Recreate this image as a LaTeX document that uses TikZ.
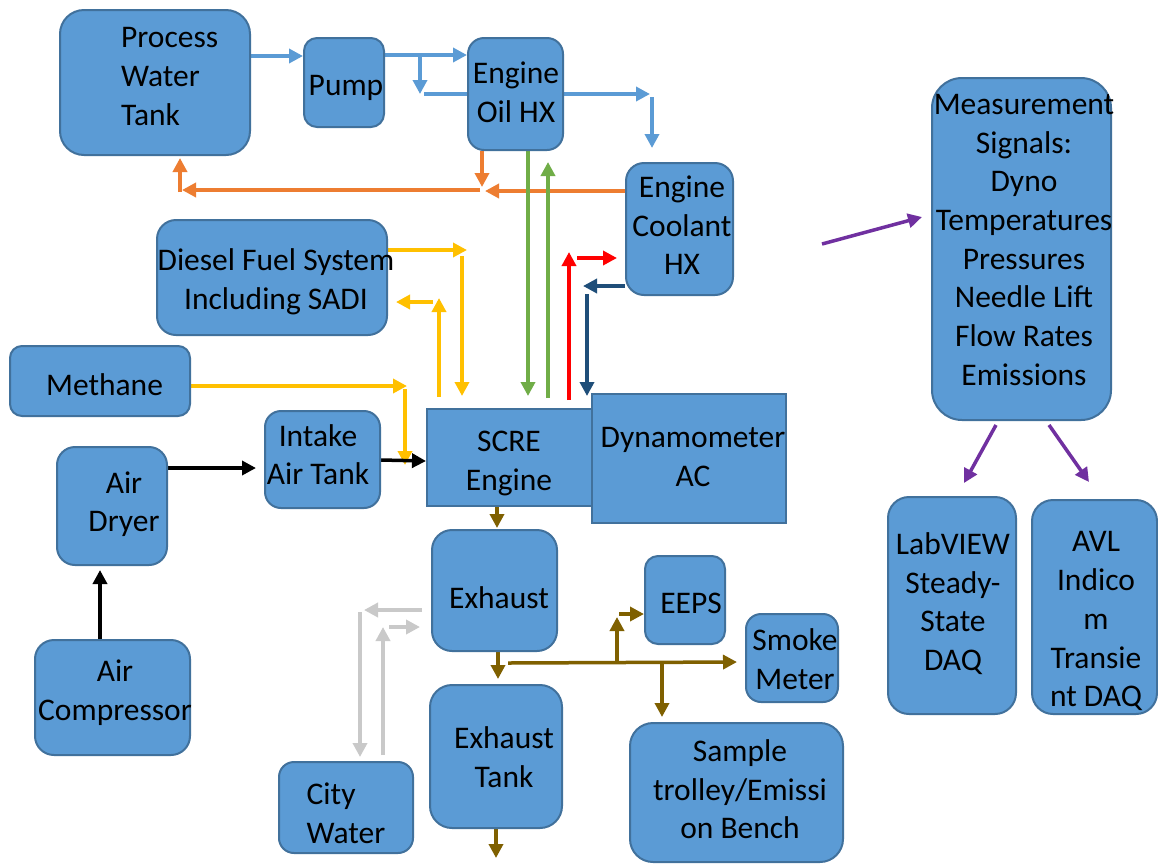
\documentclass[tikz,border=0pt]{standalone}
\usepackage{fontspec}
\setmainfont{Carlito}
\usetikzlibrary{arrows.meta}
\pgfdeclarelayer{background}
\pgfsetlayers{background,main}
\definecolor{boxfill}{HTML}{5B9BD5}
\definecolor{boxline}{HTML}{41719C}
\definecolor{bluel}{HTML}{5B9BD5}
\definecolor{orangel}{HTML}{ED7D31}
\definecolor{greenl}{HTML}{70AD47}
\definecolor{redl}{HTML}{FF0000}
\definecolor{navyl}{HTML}{1F4E79}
\definecolor{goldl}{HTML}{FFC000}
\definecolor{brownl}{HTML}{7F6000}
\definecolor{grayl}{HTML}{C9C9C9}
\definecolor{purplel}{HTML}{7030A0}
\begin{document}
\begin{tikzpicture}[x=1pt,y=-1pt,
  box/.style={draw=boxline, fill=boxfill, line width=2pt, rounded corners=#1, inner sep=0pt},
  sharpbox/.style={draw=boxline, fill=boxfill, line width=2pt, inner sep=0pt},
  txt/.style={font=\fontsize{31.5}{38.7}\selectfont, inner sep=0pt, align=center, yshift=-6pt,
    execute at begin node=\strut, execute at end node=\strut},
  conn/.style={line width=3.5pt, draw=#1, -{Triangle[length=14pt,width=14pt]}}
]
\begin{pgfonlayer}{background}
\path[fill=white, use as bounding box] (0,0) rectangle (1158,863);
\end{pgfonlayer}

% boxes
\node[box=24, minimum width=190, minimum height=145] (pwt) at (155,82.5) {};
\node[box=13, minimum width=80, minimum height=89] (pump) at (344,82.5) {};
\node[box=16, minimum width=95, minimum height=112] (oilhx) at (515.5,94) {};
\node[box=18, minimum width=107, minimum height=132] (coolant) at (679.5,229) {};
\node[box=30, minimum width=179, minimum height=342] (meas) at (1021.5,249) {};
\node[box=19, minimum width=230, minimum height=115] (diesel) at (272,277.5) {};
\node[box=12, minimum width=180, minimum height=70] (methane) at (100,381) {};
\node[box=16, minimum width=115, minimum height=97] (intake) at (322.5,459.5) {};
\node[sharpbox, minimum width=165, minimum height=97] (scre) at (509.5,457.5) {};
\node[sharpbox, minimum width=194, minimum height=129] (dyno) at (689,458.5) {};
\node[box=18, minimum width=110, minimum height=118] (dryer) at (112,506) {};
\node[box=19, minimum width=155, minimum height=115] (compressor) at (112.5,697.5) {};
\node[box=20, minimum width=125, minimum height=121] (exhaust) at (494.5,590.5) {};
\node[box=13, minimum width=80, minimum height=88] (eeps) at (685,600) {};
\node[box=15, minimum width=92, minimum height=88] (smoke) at (792,658) {};
\node[box=22, minimum width=132, minimum height=143] (extank) at (496,756.5) {};
\node[box=23, minimum width=213, minimum height=139] (sample) at (736.5,792.5) {};
\node[box=15, minimum width=134, minimum height=91] (city) at (346,807.5) {};
\node[box=21, minimum width=128, minimum height=217] (labview) at (952,605.5) {};
\node[box=21, minimum width=125, minimum height=214] (avl) at (1094.5,607) {};

% texts
\node[txt, align=left, anchor=west] (pwt-t) at (121,76) {Process\\Water\\Tank};
\node[txt] (pump-t) at (346,82) {Pump};
\node[txt] (oilhx-t) at (516,92) {Engine\\Oil HX};
\node[txt] (coolant-t) at (682,225) {Engine\\Coolant\\HX};
\node[txt] (meas-t) at (1024,239.5) {Measurement\\Signals:\\Dyno\\Temperatures\\Pressures\\Needle Lift\\Flow Rates\\Emissions};
\node[txt] (diesel-t) at (276,279) {Diesel Fuel System\\Including SADI};
\node[txt] (methane-t) at (104.5,382) {Methane};
\node[txt] (intake-t) at (318,454.5) {Intake\\Air Tank};
\node[txt] (scre-t) at (509,460.5) {SCRE\\Engine};
\node[txt] (dyno-t) at (693,457) {Dynamometer\\AC};
\node[txt] (dryer-t) at (124,501.5) {Air\\Dryer};
\node[txt] (compressor-t) at (115,690) {Air\\Compressor};
\node[txt] (exhaust-t) at (499,595) {Exhaust};
\node[txt] (eeps-t) at (691,600) {EEPS};
\node[txt] (smoke-t) at (795,659) {Smoke\\Meter};
\node[txt] (extank-t) at (504,757) {Exhaust\\Tank};
\node[txt] (sample-t) at (740,789) {Sample\\trolley/Emissi\\on Bench};
\node[txt, align=left] (city-t) at (346,813) {City\\Water};
\node[txt] (labview-t) at (953,601.5) {LabVIEW\\Steady-\\State\\DAQ};
\node[txt] (avl-t) at (1096,619) {AVL\\Indico\\m\\Transie\\nt DAQ};

% free points
\coordinate (bsplit) at (420,55);
\coordinate (osplit) at (482,190);

\begin{pgfonlayer}{background}
% blue water lines
\draw[conn=bluel] (pwt.east |- 0,56) -- (pump.west |- 0,56);
\draw[conn=bluel] (pump.east |- 0,55) -- (oilhx.west |- 0,55);
\draw[conn=bluel] (bsplit) -- (420,94);
\draw[conn=bluel] (424,94) -- (650,94);
\draw[conn=bluel] (652,97) -- (652,148);
% orange return
\draw[conn=orangel] (oilhx.south -| 482,0) -- (482,187);
\draw[conn=orangel] (coolant.west |- 0,191) -- (485,191);
\draw[conn=orangel] (480,190) -- (182,190);
\draw[conn=orangel] (180,192) -- (180,158);
% green
\draw[conn=greenl] (oilhx.south -| 528,0) -- (528,396);
\draw[conn=greenl] (548,398) -- (548,162);
% red
\draw[conn=redl] (569,400) -- (569,252);
\draw[conn=redl] (577,258) -- (617,258);
% navy
\draw[conn=navyl] (coolant.west |- 0,286) -- (583,286);
\draw[conn=navyl] (587,294) -- (587,396);
% gold fuel
\draw[conn=goldl] (diesel.east |- 0,250) -- (467,250);
\draw[conn=goldl] (462,256) -- (462,396);
\draw[conn=goldl] (439,397) -- (439,298);
\draw[conn=goldl] (433,302) -- (396,302);
\draw[conn=goldl] (methane.east |- 0,386) -- (407,386);
\draw[conn=goldl] (405,389) -- (405,465);
% black air
\draw[conn=black] (dryer.east |- 0,468) -- (256,468);
\draw[conn=black] (intake.east |- 0,460) -- (scre.west |- 0,461);
\draw[conn=black] (compressor.north -| 100,0) -- (100,570);
% brown exhaust
\draw[conn=brownl] (scre.south -| 497,0) -- (497,528);
\draw[conn=brownl] (498,647) -- (498,679);
\draw[conn=brownl] (508,663) -- (737,662);
\draw[conn=brownl] (617,663) -- (617,617);
\draw[conn=brownl] (619,614) -- (eeps.west |- 0,614);
\draw[conn=brownl] (662,663) -- (662,717);
\draw[conn=brownl] (extank.south -| 496,0) -- (496,858);
% gray city water
\draw[conn=grayl] (422,610) -- (364,610);
\draw[conn=grayl] (360,612) -- (360,757);
\draw[conn=grayl] (383,755) -- (383,627);
\draw[conn=grayl] (389,627) -- (420,627);
% purple signals
\draw[conn=purplel] (822,244) -- (922,217);
\draw[conn=purplel] (996,425) -- (964,483);
\draw[conn=purplel] (1049,425) -- (1089,482);
\end{pgfonlayer}
\end{tikzpicture}
\end{document}
